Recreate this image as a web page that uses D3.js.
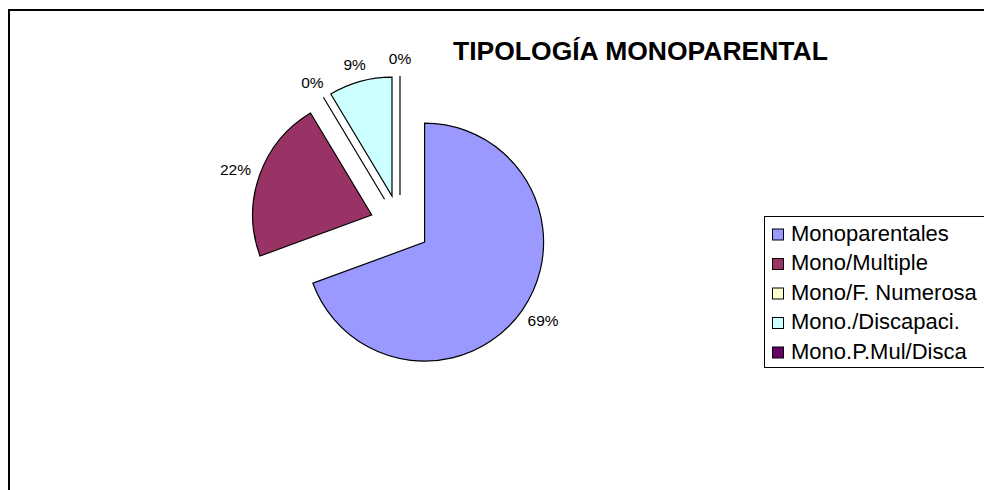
<!DOCTYPE html>
<html>
<head>
<meta charset="utf-8">
<script src="https://cdn.jsdelivr.net/npm/d3@7"></script>
<style>
  html, body { margin: 0; padding: 0; background: #fff; overflow: hidden; }
  svg { display: block; font-family: Arial, "Liberation Sans", sans-serif; }
</style>
</head>
<body>
<div class="board"></div>
<script>
// data
var categories = ["Monoparentales", "Mono/Multiple", "Mono/F. Numerosa", "Mono./Discapaci.", "Mono.P.Mul/Disca"];
var values = [69.4, 22.0, 0, 8.6, 0];
var colors = ["#9999FF", "#993366", "#FFFFCC", "#CCFFFF", "#660066"];
var title = "TIPOLOGÍA MONOPARENTAL";

var settings = {
  w: 984,
  h: 490,
  cx: 400,
  cy: 225,
  radius: 119,
  explode: 30
};

var board = d3.select('.board')
  .append('svg')
  .attr('width', settings.w)
  .attr('height', settings.h);

// frame (only top and left edges show)
board.append('path')
  .attr('d', 'M9,' + (settings.h + 10) + 'V10H' + (settings.w + 10))
  .attr('fill', 'none')
  .attr('stroke', '#000')
  .attr('stroke-width', 2);

// title
board.append('text')
  .attr('x', 453)
  .attr('y', 60)
  .attr('font-size', '26.5px')
  .attr('font-weight', 'bold')
  .attr('fill', '#000')
  .text(title);

var total = d3.sum(values);
var pct = d3.format('.0%');

var pie = d3.pie().sort(null).value(function(d) { return d; });
var arc = d3.arc().innerRadius(0).outerRadius(settings.radius);
var slices = pie(values);

var g = board.append('g')
  .attr('transform', 'translate(' + settings.cx + ',' + settings.cy + ')');

var mid = function(d) { return (d.startAngle + d.endAngle) / 2; };

var sliceG = g.selectAll('g.slice')
  .data(slices)
  .enter()
  .append('g')
  .attr('class', 'slice')
  .attr('transform', function(d) {
    var a = mid(d);
    return 'translate(' + (Math.sin(a) * settings.explode) + ',' + (-Math.cos(a) * settings.explode) + ')';
  });

sliceG.append('path')
  .attr('d', arc)
  .attr('fill', function(d, i) { return colors[i]; })
  .attr('stroke', '#000')
  .attr('stroke-width', 1.2)
  .attr('stroke-linejoin', 'miter');

// labels outside each slice
sliceG.append('text')
  .attr('font-size', '15.5px')
  .attr('fill', '#000')
  .attr('text-anchor', 'middle')
  .attr('dy', '0.35em')
  .text(function(d) { return pct(d.value / total); })
  .each(function(d) {
    var a = mid(d);
    var w = this.getComputedTextLength();
    var h = 15;
    var rr = settings.radius + 10;
    var x = Math.sin(a) * rr + Math.sin(a) * w / 2;
    var y = -Math.cos(a) * rr - Math.cos(a) * h / 2;
    d3.select(this).attr('x', x).attr('y', y);
  });

// legend (box runs past the right edge)
var legend = board.append('g');
legend.append('rect')
  .attr('x', 764.5)
  .attr('y', 216.5)
  .attr('width', 240)
  .attr('height', 151)
  .attr('fill', '#fff')
  .attr('stroke', '#000')
  .attr('stroke-width', 1);

var items = legend.selectAll('g.item')
  .data(categories)
  .enter()
  .append('g')
  .attr('class', 'item')
  .attr('transform', function(d, i) { return 'translate(0,' + (240.5 + i * 29.5) + ')'; });

items.append('rect')
  .attr('x', 772.5)
  .attr('y', -11.5)
  .attr('width', 11)
  .attr('height', 11)
  .attr('fill', function(d, i) { return colors[i]; })
  .attr('stroke', '#000')
  .attr('stroke-width', 1);

items.append('text')
  .attr('x', 791)
  .attr('y', 0)
  .attr('font-size', '22px')
  .attr('fill', '#000')
  .text(function(d) { return d; });
</script>
</body>
</html>
